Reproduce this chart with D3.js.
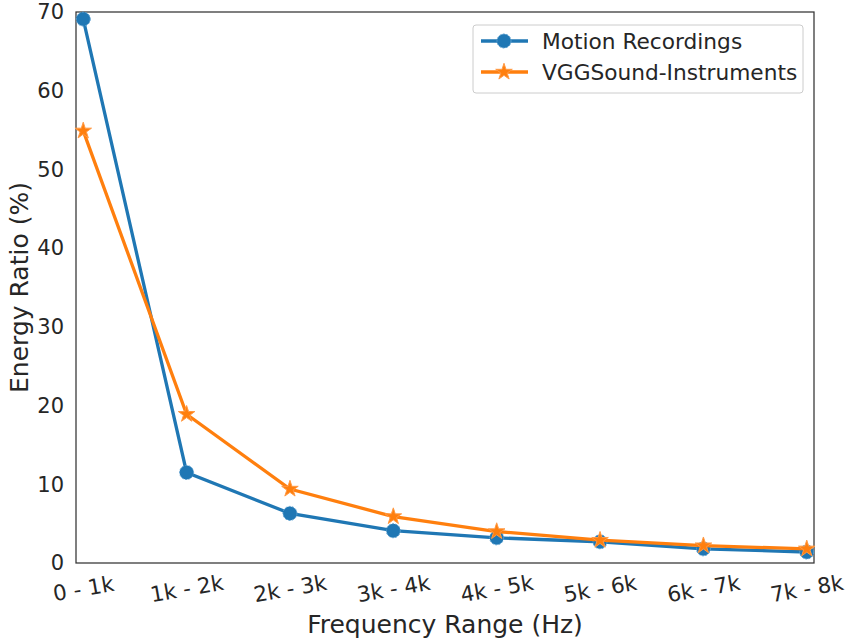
<!DOCTYPE html>
<html><head><meta charset="utf-8">
<script src="https://cdn.jsdelivr.net/npm/d3@7"></script>
<style>body{margin:0;background:#fff}text{font-family:"DejaVu Sans",sans-serif;fill:#262626}</style>
</head><body>
<svg id="c" width="847" height="640"></svg>
<script>
const categories = ["0 - 1k","1k - 2k","2k - 3k","3k - 4k","4k - 5k","5k - 6k","6k - 7k","7k - 8k"];
const motion = [69.1, 11.5, 6.3, 4.1, 3.2, 2.7, 1.8, 1.4];
const vgg = [54.9, 18.9, 9.4, 5.9, 4.0, 2.9, 2.2, 1.8];
const yTicks = [0,10,20,30,40,50,60,70];
const seriesNames = ["Motion Recordings","VGGSound-Instruments"];

const svg = d3.select("#c");
const L=76, R=814, T=12, B=563;
const x = d3.scaleLinear().domain([-0.07, 7.07]).range([L,R]);
const y = d3.scaleLinear().domain([0,70]).range([B,T]);

// y axis
const ya = svg.append("g").attr("transform",`translate(${L},0)`)
  .call(d3.axisLeft(y).tickValues(yTicks).tickSize(0).tickPadding(12));
ya.select(".domain").remove();
ya.selectAll("text").style("font-size","21px").attr("fill","#262626");

// x axis
const xa = svg.append("g").attr("transform",`translate(0,${B})`)
  .call(d3.axisBottom(x).tickValues(d3.range(categories.length)).tickFormat(i=>categories[i]).tickSize(0).tickPadding(0));
xa.select(".domain").remove();
xa.selectAll("text").style("font-size","21.5px").attr("fill","#262626")
  .attr("text-anchor","middle").attr("dy",null).attr("y",null)
  .attr("transform","translate(0,27) rotate(-10)").attr("dominant-baseline","middle");

// frame
svg.append("rect").attr("x",L).attr("y",T).attr("width",R-L).attr("height",B-T)
  .attr("fill","none").attr("stroke","#333").attr("stroke-width",1.25);

// labels
svg.append("text").attr("x",(L+R)/2).attr("y",633).attr("text-anchor","middle")
  .style("font-size","25px").text("Frequency Range (Hz)");
svg.append("text").attr("transform",`translate(28,${(T+B)/2}) rotate(-90)`).attr("text-anchor","middle")
  .style("font-size","25px").text("Energy Ratio (%)");

const line = d3.line().x((d,i)=>x(i)).y(d=>y(d));
const blue="#1f77b4", orange="#ff7f0e";
const g = svg.append("g");
g.append("path").datum(motion).attr("d",line).attr("fill","none").attr("stroke",blue).attr("stroke-width",3.3);
g.selectAll(".m").data(motion).join("circle").attr("cx",(d,i)=>x(i)).attr("cy",d=>y(d)).attr("r",7)
  .attr("fill",blue).attr("stroke","#5a9fd0").attr("stroke-width",1).attr("stroke-dasharray","2,1.5");
g.append("path").datum(vgg).attr("d",line).attr("fill","none").attr("stroke",orange).attr("stroke-width",3.3);
const star = d3.symbol().type(d3.symbolStar).size(85);
g.selectAll(".s").data(vgg).join("path").attr("d",star)
  .attr("transform",(d,i)=>`translate(${x(i)},${y(d)})`).attr("fill",orange).attr("stroke","#ff9a45").attr("stroke-width",1);

// legend
const lg = svg.append("g").attr("transform","translate(473,25)");
lg.append("rect").attr("width",330).attr("height",68).attr("rx",3).attr("fill","#fff").attr("stroke","#ccc").attr("stroke-width",1);
[[blue,"circle"],[orange,"star"]].forEach((s,k)=>{
  const yy = 16 + k*31;
  lg.append("line").attr("x1",8).attr("x2",55).attr("y1",yy).attr("y2",yy).attr("stroke",s[0]).attr("stroke-width",3.3);
  if(s[1]==="circle") lg.append("circle").attr("cx",31).attr("cy",yy).attr("r",7).attr("fill",blue).attr("stroke","#5a9fd0").attr("stroke-dasharray","2,1.5");
  else lg.append("path").attr("d",star).attr("transform",`translate(31,${yy})`).attr("fill",orange).attr("stroke","#ff9a45");
  lg.append("text").attr("x",69).attr("y",yy).attr("dy","0.35em").style("font-size","21.7px").text(seriesNames[k]);
});
</script>
</body></html>
